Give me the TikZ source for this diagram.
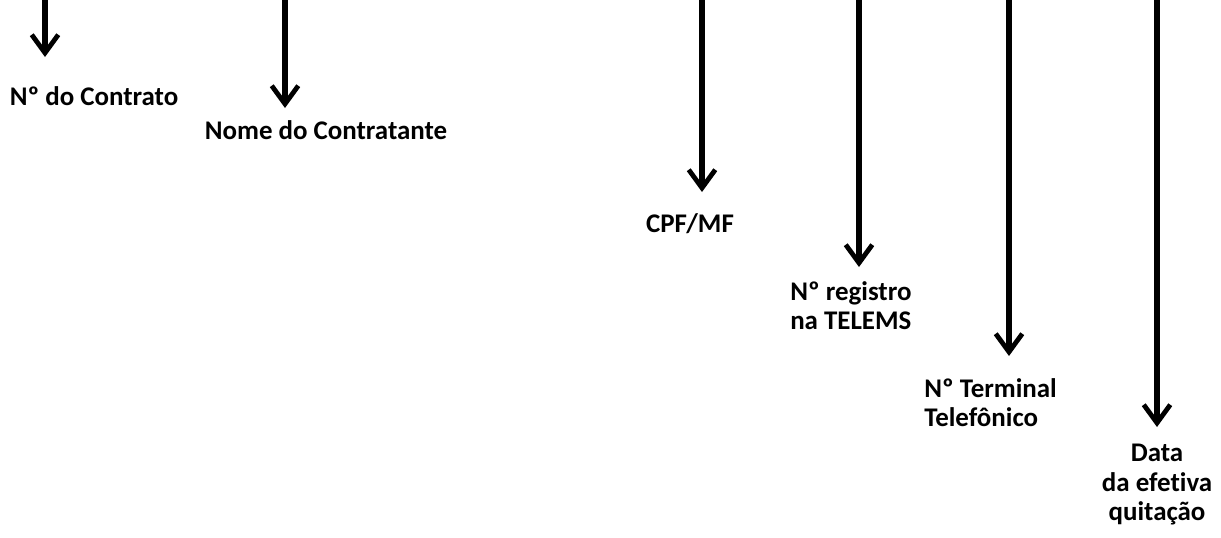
\documentclass[tikz,border=0pt]{standalone}
\usepackage{fontspec}
\setmainfont{Carlito}[Ligatures=NoCommon]
\usetikzlibrary{arrows.meta}

\begin{document}
\begin{tikzpicture}[
    x=0.75pt,y=-0.75pt,
    lbl/.style={align=center,font=\fontsize{20.2}{22}\selectfont\bfseries,inner sep=0pt},
    lbll/.style={lbl,align=left,anchor=north west},
    arr/.style={-{Straight Barb[length=4.8mm,width=7mm,line width=3.6pt]},line width=3.8pt,black}
  ]
    \useasboundingbox (0,0) rectangle (1221,537);
    % start and end points of the arrows
    \coordinate (s1) at (45,-5);   \coordinate (e1) at (45,57);
    \coordinate (s2) at (285,-5);  \coordinate (e2) at (285,108);
    \coordinate (s3) at (702,-5);  \coordinate (e3) at (702,192);
    \coordinate (s4) at (859,-5);  \coordinate (e4) at (859,267);
    \coordinate (s5) at (1009,-5); \coordinate (e5) at (1009,356);
    \coordinate (s6) at (1157,-5); \coordinate (e6) at (1157,427);
    \node[lbl] (contrato) at (94,96) {Nº do Contrato};
    \node[lbl] (nome) at (326,130) {Nome do Contratante};
    \node[lbl] (cpf) at (690,224) {CPF/MF};
    \node[lbll] (registro) at (790,281) {Nº registro\\na TELEMS};
    \node[lbll] (terminal) at (924,378) {Nº Terminal\\Telefônico};
    \node[lbl,anchor=north] (data) at (1157,444) {Data\\da efetiva\\quitação};
    \draw[arr] (s1)--(e1); \draw[arr] (s2)--(e2); \draw[arr] (s3)--(e3);
    \draw[arr] (s4)--(e4); \draw[arr] (s5)--(e5); \draw[arr] (s6)--(e6);
  \end{tikzpicture}
\end{document}
